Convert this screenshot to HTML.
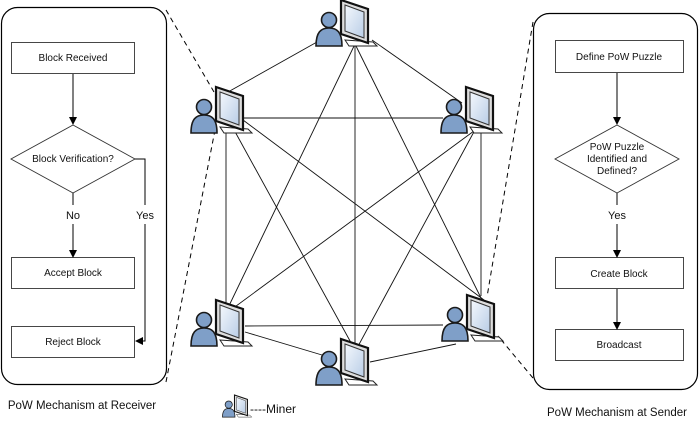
<!DOCTYPE html>
<html><head><meta charset="utf-8"><style>
html,body{margin:0;padding:0;background:#fff;}
svg{display:block;font-family:"Liberation Sans",sans-serif;}
</style></head><body>
<svg width="700" height="432" viewBox="0 0 700 432" xmlns="http://www.w3.org/2000/svg">
<defs>
<marker id="ar" markerWidth="8" markerHeight="8" refX="7" refY="4" orient="auto" markerUnits="userSpaceOnUse"><path d="M0,0 L8,4 L0,8 Z" fill="#000"/></marker>
<linearGradient id="scr" x1="0" y1="0" x2="1" y2="1"><stop offset="0" stop-color="#f4f8fd"/><stop offset="1" stop-color="#b9cde6"/></linearGradient>
<g id="miner">
 <polygon points="30,40 58,42 62,46 34,46" fill="#fff" stroke="#222" stroke-width="1"/>
 <polygon points="26,0 53,9 53,43 26,34" fill="#ddd" stroke="#111" stroke-width="2.2"/>
 <polygon points="30,5 49,12 49,38 30,31" fill="url(#scr)" stroke="#333" stroke-width="1"/>
 <circle cx="14" cy="20" r="7.5" fill="#7f9fc8" stroke="#1a1a1a" stroke-width="1.6"/>
 <path d="M1,46 C1,32 6,28 14,28 C22,28 27,32 27,46 Z" fill="#7f9fc8" stroke="#1a1a1a" stroke-width="1.6"/>
</g>
</defs>

<g stroke="#000" stroke-width="1" stroke-dasharray="5,4" fill="none">
 <line x1="166" y1="10" x2="214" y2="92"/>
 <line x1="166" y1="382" x2="215" y2="130"/>
 <line x1="533" y1="22" x2="487" y2="297"/>
 <line x1="533" y1="378" x2="498" y2="336"/>
</g>

<g stroke="#111" stroke-width="0.9">
 <line x1="317" y1="42" x2="228" y2="92"/>
 <line x1="355" y1="44" x2="226" y2="312"/>
 <line x1="355" y1="44" x2="355" y2="350"/>
 <line x1="355" y1="44" x2="482" y2="300"/>
 <line x1="372" y1="40" x2="462" y2="103"/>
 <line x1="243" y1="118" x2="443" y2="118"/>
 <line x1="226" y1="128" x2="226" y2="306"/>
 <line x1="233" y1="128" x2="355" y2="350"/>
 <line x1="243" y1="120" x2="484" y2="300"/>
 <line x1="478" y1="128" x2="228" y2="312"/>
 <line x1="476" y1="128" x2="356" y2="350"/>
 <line x1="481" y1="128" x2="481" y2="296"/>
 <line x1="245" y1="326" x2="443" y2="325"/>
 <line x1="245" y1="332" x2="322" y2="355"/>
 <line x1="370" y1="362" x2="456" y2="344"/>
</g>

<use href="#miner" x="315" y="0"/>
<use href="#miner" x="190" y="87"/>
<use href="#miner" x="440" y="87"/>
<use href="#miner" x="190" y="300"/>
<use href="#miner" x="441" y="295"/>
<use href="#miner" x="315" y="339"/>
<use href="#miner" transform="translate(222,395) scale(0.48)"/>
<text x="250" y="413" font-size="12" fill="#111">----Miner</text>

<rect x="1.5" y="7.5" width="165" height="377" rx="16" fill="none" stroke="#000" stroke-width="1.2"/>
<g stroke="#333" stroke-width="0.9" fill="#fff">
 <rect x="11.5" y="42.5" width="123" height="31"/>
 <polygon points="73,125 135,159 73,193 11,159"/>
 <rect x="11.5" y="257.5" width="123" height="31"/>
 <rect x="11.5" y="326.5" width="123" height="31"/>
</g>
<g stroke="#000" stroke-width="1" fill="none">
 <line x1="73" y1="74" x2="73" y2="124" marker-end="url(#ar)"/>
 <line x1="73" y1="193" x2="73" y2="205"/>
 <line x1="73" y1="224" x2="73" y2="257" marker-end="url(#ar)"/>
 <polyline points="135,159 145,159 145,205"/>
 <polyline points="145,224 145,341 136,341" marker-end="url(#ar)"/>
</g>
<g font-size="10" fill="#111" text-anchor="middle">
 <text x="73" y="61">Block Received</text>
 <text x="73" y="162">Block Verification?</text>
 <text x="73" y="276">Accept Block</text>
 <text x="73" y="345">Reject Block</text>
</g>
<g font-size="11" fill="#111" text-anchor="middle">
 <text x="73" y="219">No</text>
 <text x="145" y="219">Yes</text>
</g>
<text x="82" y="409" font-size="11.5" fill="#111" text-anchor="middle">PoW Mechanism at Receiver</text>

<rect x="533.5" y="13.5" width="164" height="376" rx="16" fill="none" stroke="#000" stroke-width="1.2"/>
<g stroke="#333" stroke-width="0.9" fill="#fff">
 <rect x="555.5" y="40.5" width="128" height="32"/>
 <polygon points="617,125 679,159 617,193 555,159"/>
 <rect x="555.5" y="257.5" width="128" height="31"/>
 <rect x="555.5" y="329.5" width="128" height="31"/>
</g>
<g stroke="#000" stroke-width="1" fill="none">
 <line x1="617" y1="73" x2="617" y2="124" marker-end="url(#ar)"/>
 <line x1="617" y1="193" x2="617" y2="205"/>
 <line x1="617" y1="224" x2="617" y2="257" marker-end="url(#ar)"/>
 <line x1="617" y1="289" x2="617" y2="329" marker-end="url(#ar)"/>
</g>
<g font-size="10" fill="#111" text-anchor="middle">
 <text x="619" y="60">Define PoW Puzzle</text>
 <text x="617" y="150">PoW Puzzle</text>
 <text x="617" y="162">Identified and</text>
 <text x="617" y="174">Defined?</text>
 <text x="619" y="277">Create Block</text>
 <text x="619" y="348">Broadcast</text>
</g>
<text x="617" y="219" font-size="11" fill="#111" text-anchor="middle">Yes</text>
<text x="617" y="416" font-size="11.5" fill="#111" text-anchor="middle">PoW Mechanism at Sender</text>
</svg>
</body></html>
